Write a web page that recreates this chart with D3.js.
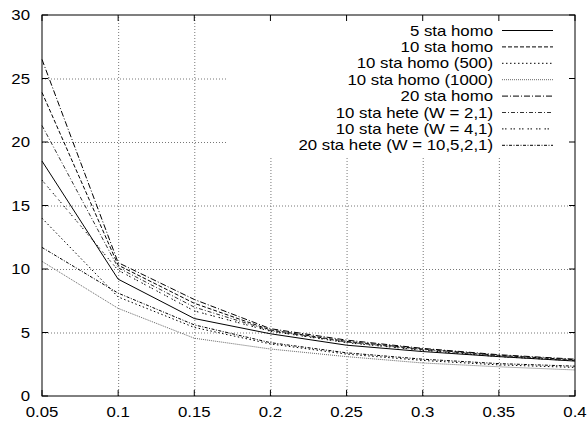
<!DOCTYPE html>
<html lang="en">
<head>
    <meta charset="UTF-8">
    <title>sta homo / hete</title>
    <style>
        body{
            overflow: hidden;
            margin: 0;
            background: white;
        }
        text{
            font-family: "Liberation Sans", Arial, sans-serif;
            font-size: 14px;
        }
    </style>
</head>
<body>
    <script src="https://cdnjs.cloudflare.com/ajax/libs/d3/7.8.2/d3.min.js"></script>
    <script>

const xs = [0.05, 0.1, 0.15, 0.2, 0.25, 0.3, 0.35, 0.4]
const xTicks = [0.05, 0.1, 0.15, 0.2, 0.25, 0.3, 0.35, 0.4]
const yTicks = [0, 5, 10, 15, 20, 25, 30]

const names = [
  '5 sta homo',
  '10 sta homo',
  '10 sta homo (500)',
  '10 sta homo (1000)',
  '20 sta homo',
  '10 sta hete (W = 2,1)',
  '10 sta hete (W = 4,1)',
  '20 sta hete (W = 10,5,2,1)'
]

const sta5homo     = [18.5, 9.2, 6.1, 4.9, 4.0, 3.5, 3.1, 2.75]
const sta10homo    = [23.9, 10.3, 7.3, 5.2, 4.3, 3.7, 3.2, 2.85]
const sta10homo500 = [14.0, 7.8, 5.4, 4.1, 3.3, 2.8, 2.45, 2.25]
const sta10homo1000= [10.6, 6.9, 4.55, 3.7, 3.1, 2.6, 2.3, 2.05]
const sta20homo    = [26.5, 10.5, 7.6, 5.3, 4.4, 3.75, 3.25, 2.9]
const sta10hete21  = [21.3, 10.1, 7.0, 5.15, 4.25, 3.65, 3.15, 2.8]
const sta10hete41  = [17.0, 9.9, 6.7, 5.1, 4.2, 3.6, 3.1, 2.78]
const sta20hete    = [11.7, 8.1, 5.6, 4.2, 3.4, 2.9, 2.55, 2.35]

const series = [sta5homo, sta10homo, sta10homo500, sta10homo1000,
                sta20homo, sta10hete21, sta10hete41, sta20hete]

// line looks, same order as names
const dashes = ['none', '4,2', '1.5,2.5', '1,1', '6,2,1,2', '4,2,1,2', '1.5,1.5,1.5,4', '3,1.5,1,1.5']
const strokes = ['#000', '#000', '#000', '#666', '#000', '#333', '#000', '#000']

const W = 587, H = 425
const mLeft = 42, mRight = 575, mTop = 15, mBottom = 396

const x = d3.scaleLinear().domain([0.05, 0.4]).range([mLeft, mRight])
const y = d3.scaleLinear().domain([0, 30]).range([mBottom, mTop])

const svg = d3.select('body')
  .append('svg')
  .attr('width', W)
  .attr('height', H)

// grid
const grid = svg.append('g')
grid.append('g')
  .attr('transform', `translate(0,${mBottom})`)
  .call(d3.axisBottom(x).tickValues(xTicks.slice(1, -1)).tickSize(-(mBottom - mTop)).tickFormat(''))
grid.append('g')
  .attr('transform', `translate(${mLeft},0)`)
  .call(d3.axisLeft(y).tickValues(yTicks.slice(1, -1)).tickSize(-(mRight - mLeft)).tickFormat(''))
grid.selectAll('.domain').remove()
grid.selectAll('line')
  .attr('stroke', '#777')
  .attr('stroke-dasharray', '1,2')

// key area blanks the grid
svg.append('rect')
  .attr('x', 227).attr('y', mTop)
  .attr('width', mRight - 227).attr('height', 158 - mTop)
  .attr('fill', 'white')

// curves
const line = d3.line()
  .x((d, i) => x(xs[i]))
  .y(d => y(d))

svg.append('g')
  .selectAll('path')
  .data(series)
  .join('path')
  .attr('d', d => line(d))
  .attr('fill', 'none')
  .attr('stroke', (d, i) => strokes[i])
  .attr('stroke-width', 1)
  .attr('stroke-dasharray', (d, i) => dashes[i])

// border and inward ticks on every side
svg.append('rect')
  .attr('x', mLeft).attr('y', mTop)
  .attr('width', mRight - mLeft).attr('height', mBottom - mTop)
  .attr('fill', 'none')
  .attr('stroke', '#000')

const tk = 6
const ticks = svg.append('g').attr('stroke', '#000')
ticks.selectAll('.xb').data(xTicks).join('line')
  .attr('x1', d => x(d)).attr('x2', d => x(d))
  .attr('y1', mBottom).attr('y2', mBottom - tk)
ticks.append('g').selectAll('line').data(xTicks).join('line')
  .attr('x1', d => x(d)).attr('x2', d => x(d))
  .attr('y1', mTop).attr('y2', mTop + tk)
ticks.append('g').selectAll('line').data(yTicks).join('line')
  .attr('x1', mLeft).attr('x2', mLeft + tk)
  .attr('y1', d => y(d)).attr('y2', d => y(d))
ticks.append('g').selectAll('line').data(yTicks).join('line')
  .attr('x1', mRight).attr('x2', mRight - tk)
  .attr('y1', d => y(d)).attr('y2', d => y(d))

// labels (the source is a bit wide, so stretch text horizontally)
const sx = 1.2
svg.append('g')
  .selectAll('text')
  .data(xTicks)
  .join('text')
  .attr('text-anchor', 'middle')
  .attr('transform', d => `translate(${x(d)},${mBottom + 21}) scale(${sx},1)`)
  .text(d => String(+d.toFixed(2)))

svg.append('g')
  .selectAll('text')
  .data(yTicks)
  .join('text')
  .attr('text-anchor', 'end')
  .attr('transform', d => `translate(30,${y(d) + 5}) scale(${sx},1)`)
  .text(d => d)

// key
const key = svg.append('g')
  .selectAll('g')
  .data(names)
  .join('g')
  .attr('transform', (d, i) => `translate(0,${30.5 + i * 16.4})`)

key.append('text')
  .attr('text-anchor', 'end')
  .attr('transform', `translate(493,5) scale(${sx},1)`)
  .text(d => d)

key.append('line')
  .attr('x1', 502).attr('x2', 553)
  .attr('stroke', (d, i) => strokes[i])
  .attr('stroke-dasharray', (d, i) => dashes[i])

    </script>
</body>
</html>
